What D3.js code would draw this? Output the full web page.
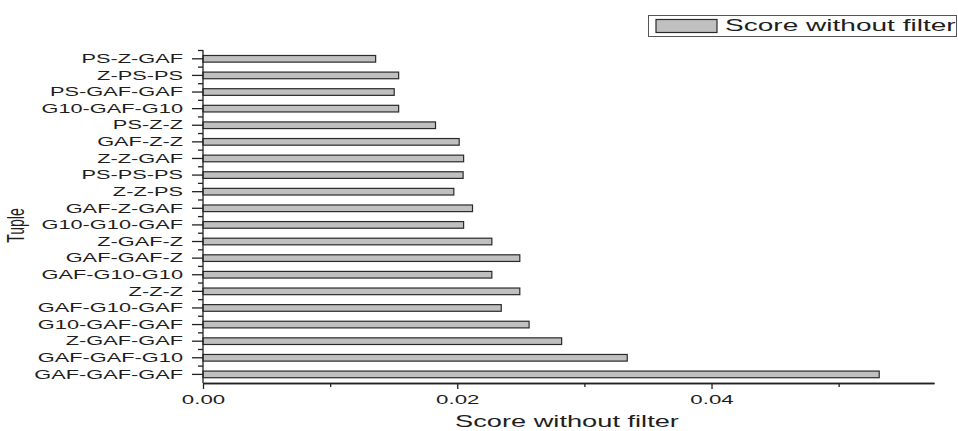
<!DOCTYPE html>
<html>
<head>
<meta charset="utf-8">
<script src="https://cdn.jsdelivr.net/npm/d3@7"></script>
<style>
  body { margin: 0; background: #fff; }
  svg { display: block; font-family: "Liberation Sans", Arial, sans-serif; }
  .axis path, .axis line { stroke: #222; stroke-width: 1.3; }
  .axis text { fill: #1e1e1e; }
</style>
</head>
<body>
<svg width="958" height="431"></svg>
<script>
// categories, top to bottom as drawn
var tuples = ["PS-Z-GAF", "Z-PS-PS", "PS-GAF-GAF", "G10-GAF-G10", "PS-Z-Z",
  "GAF-Z-Z", "Z-Z-GAF", "PS-PS-PS", "Z-Z-PS", "GAF-Z-GAF", "G10-G10-GAF",
  "Z-GAF-Z", "GAF-GAF-Z", "GAF-G10-G10", "Z-Z-Z", "GAF-G10-GAF",
  "G10-GAF-GAF", "Z-GAF-GAF", "GAF-GAF-G10", "GAF-GAF-GAF"];

var scores = [0.01358, 0.01539, 0.01504, 0.01539, 0.01829,
  0.02015, 0.0205, 0.02046, 0.01973, 0.0212, 0.0205,
  0.02272, 0.02492, 0.02272, 0.02492, 0.02346,
  0.02565, 0.02821, 0.03337, 0.05319];

var majorTicks = [0, 0.02, 0.04];
var minorTicks = [0.01, 0.03, 0.05];
var seriesName = "Score without filter";

var SX = 1.65; // the picture is stretched sideways, text too

var svg = d3.select("svg");

var x = d3.scaleLinear()
    .domain([0, 0.0575])
    .range([203, 934]);

var y = d3.scaleBand()
    .domain(tuples)
    .range([50.5, 382.7])
    .paddingInner(0.6)
    .paddingOuter(0.3);

// bars
svg.append("g").selectAll("rect")
    .data(tuples)
  .enter().append("rect")
    .attr("x", x(0))
    .attr("y", function(d) { return y(d); })
    .attr("width", function(d, i) { return x(scores[i]) - x(0); })
    .attr("height", y.bandwidth())
    .attr("fill", "#c0c0c0")
    .attr("stroke", "#2a2a2a")
    .attr("stroke-width", 1.2);

// x axis, minor then major
var xMinor = d3.axisBottom(x)
    .tickValues(minorTicks)
    .tickSize(4)
    .tickSizeOuter(0)
    .tickFormat("");

var xMajor = d3.axisBottom(x)
    .tickValues(majorTicks)
    .tickSize(6)
    .tickSizeOuter(0)
    .tickPadding(5)
    .tickFormat(d3.format(".2f"));

svg.append("g")
    .attr("class", "axis")
    .attr("transform", "translate(0,383)")
    .call(xMinor);

var gX = svg.append("g")
    .attr("class", "axis")
    .attr("transform", "translate(0,383)")
    .call(xMajor);

gX.selectAll("text")
    .attr("font-size", 13.5)
    .attr("transform", "scale(" + SX + ",1)");

// y axis
var yAxis = d3.axisLeft(y)
    .tickSize(11)
    .tickSizeOuter(0)
    .tickPadding(9);

var gY = svg.append("g")
    .attr("class", "axis")
    .attr("transform", "translate(203,0)")
    .call(yAxis);

gY.select(".domain").attr("d", "M0,50V383");

gY.selectAll("text")
    .attr("font-size", 13.2)
    .attr("x", -20 / SX)
    .attr("transform", "scale(" + SX + ",1)");

// minor y ticks at band edges
var step = y.step();
var edges = tuples.map(function(d) { return y(d) + y.bandwidth() / 2 - step / 2; });

gY.selectAll(".minor")
    .data(edges)
  .enter().append("line")
    .attr("class", "minor")
    .attr("x1", -5)
    .attr("x2", 0)
    .attr("y1", function(d) { return d; })
    .attr("y2", function(d) { return d; });

// axis titles
svg.append("text")
    .attr("x", 567 / SX)
    .attr("y", 427.5)
    .attr("transform", "scale(" + SX + ",1)")
    .attr("text-anchor", "middle")
    .attr("font-size", 16.5)
    .attr("fill", "#1e1e1e")
    .text(seriesName);

svg.append("text")
    .attr("transform", "translate(16,225.5) scale(" + SX + ",1) rotate(-90)")
    .attr("text-anchor", "middle")
    .attr("dy", "0.35em")
    .attr("font-size", 14)
    .attr("fill", "#1e1e1e")
    .text("Tuple");

// legend
var legend = svg.append("g");

legend.append("rect")
    .attr("x", 648.5)
    .attr("y", 15.5)
    .attr("width", 308)
    .attr("height", 21)
    .attr("fill", "#fff")
    .attr("stroke", "#555")
    .attr("stroke-width", 1);

legend.append("rect")
    .attr("x", 656)
    .attr("y", 19.5)
    .attr("width", 61)
    .attr("height", 13)
    .attr("fill", "#c0c0c0")
    .attr("stroke", "#2a2a2a")
    .attr("stroke-width", 1.2);

legend.append("text")
    .attr("x", 725 / SX)
    .attr("y", 31.5)
    .attr("transform", "scale(" + SX + ",1)")
    .attr("font-size", 17)
    .attr("fill", "#1e1e1e")
    .text(seriesName);
</script>
</body>
</html>
